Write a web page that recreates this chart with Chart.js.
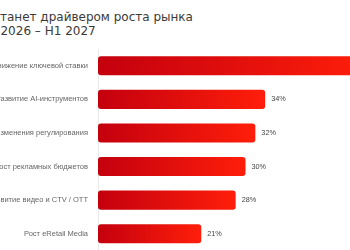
<!DOCTYPE html>
<html>
<head>
<meta charset="utf-8">
<script src="https://cdn.jsdelivr.net/npm/chart.js@4/dist/chart.umd.min.js"></script>
<style>
  html, body { margin: 0; padding: 0; background: #fff; overflow: hidden; width: 350px; height: 250px; }
  .title { position: absolute; white-space: nowrap; font-family: "DejaVu Sans", sans-serif; font-size: 12px; line-height: 14px; color: #3a3a3a; }
  #wrap { position: absolute; left: -32px; top: 0; width: 450px; height: 265px; }
</style>
</head>
<body>
<div class="title" id="t1"><span class="cut">Что с</span>танет драйвером роста рынка</div>
<div class="title" id="t2"><span class="cut">H2 </span>2026 – H1 2027</div>
<div id="wrap"><canvas id="chart"></canvas></div>
<script>
const categories = ['Снижение ключевой ставки', 'Развитие AI-инструментов', 'Изменения регулирования',
  'Рост рекламных бюджетов', 'Развитие видео и CTV / OTT', 'Рост eRetail Media'];
const shares = [55, 34, 32, 30, 28, 21];

// title lines are cut at the left edge, like in the screenshot
function placeLine(id, top) {
  const el = document.getElementById(id);
  const cut = el.querySelector('.cut').offsetWidth;
  el.style.left = (-cut) + 'px';
  el.style.top = top + 'px';
}
placeLine('t1', 10);
placeLine('t2', 24);

const valueLabels = {
  id: 'valueLabels',
  afterDatasetsDraw(chart) {
    const ctx = chart.ctx;
    ctx.save();
    ctx.font = '7.3px "Liberation Sans", Arial, sans-serif';
    ctx.fillStyle = '#444';
    ctx.textBaseline = 'middle';
    chart.getDatasetMeta(0).data.forEach((bar, i) => {
      ctx.fillText(shares[i] + '%', bar.x + 6, bar.y);
    });
    ctx.restore();
  }
};

const ctx = document.getElementById('chart').getContext('2d');
new Chart(ctx, {
  type: 'bar',
  data: {
    labels: categories,
    datasets: [{
      data: shares,
      backgroundColor: (c) => {
        const chart = c.chart;
        if (c.type !== 'data' || !chart.chartArea) return '#e80a0a';
        const x0 = chart.scales.x.getPixelForValue(0);
        const x1 = chart.scales.x.getPixelForValue(c.raw);
        const g = chart.ctx.createLinearGradient(x0, 0, x1, 0);
        g.addColorStop(0, '#c4000e');
        g.addColorStop(1, '#ff1e0a');
        return g;
      },
      borderRadius: 3,
      borderSkipped: false,
      barPercentage: 0.57,
      categoryPercentage: 1
    }]
  },
  options: {
    indexAxis: 'y',
    responsive: true,
    maintainAspectRatio: false,
    animation: false,
    layout: { padding: { top: 49, bottom: 0, left: 0, right: 25 } },
    plugins: {
      legend: { display: false },
      tooltip: { enabled: false }
    },
    scales: {
      x: {
        display: false,
        min: 0,
        max: 60
      },
      y: {
        afterFit: (scale) => { scale.width = 130; },
        grid: { display: false, drawTicks: false },
        border: { display: true, color: '#e8e8e8' },
        ticks: {
          padding: 10,
          color: '#666',
          font: { family: '"Liberation Sans", Arial, sans-serif', size: 7.5 }
        }
      }
    }
  },
  plugins: [valueLabels]
});
</script>
</body>
</html>
